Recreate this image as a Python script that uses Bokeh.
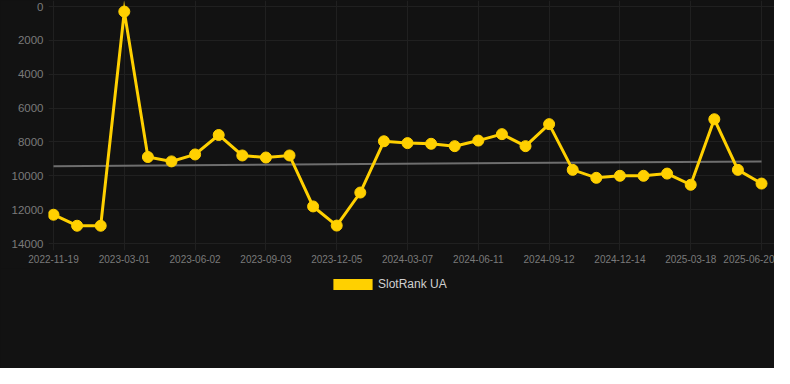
from bokeh.plotting import figure
from bokeh.layouts import column
from bokeh.models import (ColumnDataSource, Range1d, FixedTicker, Legend, LegendItem)
from bokeh.embed import file_html
from bokeh.resources import INLINE

# ---- data ----
ranks = [12300, 12950, 12950, 300, 8890, 9150, 8740, 7590, 8800, 8920, 8800,
         11810, 12940, 10990, 7960, 8070, 8110, 8250, 7920, 7540, 8250, 6950,
         9650, 10120, 10000, 10000, 9870, 10530, 6660, 9650, 10460]
tick_labels = ["2022-11-19", "2023-03-01", "2023-06-02", "2023-09-03", "2023-12-05",
               "2024-03-07", "2024-06-11", "2024-09-12", "2024-12-14", "2025-03-18",
               "2025-06-20"]
trend_values = [9430, 9150]
series_name = "SlotRank UA"

idx = list(range(len(ranks)))
tick_pos = idx[::3]

BG = "#121212"
GOLD = "#FFD000"
FONT = "Liberation Sans"

p = figure(width=774, height=268, output_backend="svg", toolbar_location=None,
           x_range=Range1d(-0.212, 30.55), y_range=Range1d(14413, -354),
           min_border_left=48, min_border_right=0, min_border_top=0,
           min_border_bottom=18)
p.background_fill_color = BG
p.border_fill_color = BG
p.outline_line_color = None

src = ColumnDataSource(dict(x=idx, y=ranks))
p.line([0, idx[-1]], trend_values, line_color="#6e6e6e", line_width=2)
p.line("x", "y", source=src, line_color=GOLD, line_width=3, line_join="miter")
p.scatter("x", "y", source=src, size=11, fill_color=GOLD, line_color=GOLD)

# axes
xa = p.xaxis[0]
xa.ticker = FixedTicker(ticks=tick_pos)
xa.major_label_overrides = {t: lab for t, lab in zip(tick_pos, tick_labels)}
xa.major_label_text_font = FONT
xa.major_label_text_font_size = "10px"
xa.major_label_text_color = "#7a7a7a"
xa.axis_line_color = None
xa.major_tick_line_color = None
xa.minor_tick_line_color = None
xa.major_tick_out = 0
xa.major_tick_in = 0
xa.major_label_standoff = 4

ya = p.yaxis[0]
ya.ticker = FixedTicker(ticks=list(range(0, 14001, 2000)))
ya.major_label_text_font = FONT
ya.major_label_text_font_size = "11.5px"
ya.major_label_text_color = "#7a7a7a"
ya.axis_line_color = None
ya.major_tick_line_color = None
ya.minor_tick_line_color = None
ya.major_tick_out = 0
ya.major_tick_in = 0
ya.major_label_standoff = 5

p.xgrid.grid_line_color = "#202020"
p.ygrid.grid_line_color = "#202020"

# ---- legend strip below the chart ----
pl = figure(width=774, height=100, output_backend="svg", toolbar_location=None,
            x_range=Range1d(0, 1), y_range=Range1d(0, 1),
            x_axis_type=None, y_axis_type=None,
            min_border_left=0, min_border_right=0, min_border_top=0,
            min_border_bottom=0)
pl.background_fill_color = BG
pl.border_fill_color = BG
pl.outline_line_color = None
pl.xgrid.visible = False
pl.ygrid.visible = False
# swatch renderer: one point placed outside the visible range (only its legend icon shows)
sw = pl.rect(x=[-10], y=[-10], width=1, height=1, fill_color=GOLD, line_color=None)
legend = Legend(items=[LegendItem(label=series_name, renderers=[sw])],
                location=(280, 77), orientation="horizontal",
                glyph_width=49, glyph_height=14, label_height=12, padding=0,
                spacing=0, label_standoff=1, margin=0,
                background_fill_alpha=0, border_line_color=None,
                label_text_color="#d0d0d0", label_text_font=FONT,
                label_text_font_size="12px")
pl.add_layout(legend, "center")

layout = column(p, pl, spacing=0)
layout.styles = {"background-color": BG}
open("out.html", "w").write(file_html(layout, INLINE))
